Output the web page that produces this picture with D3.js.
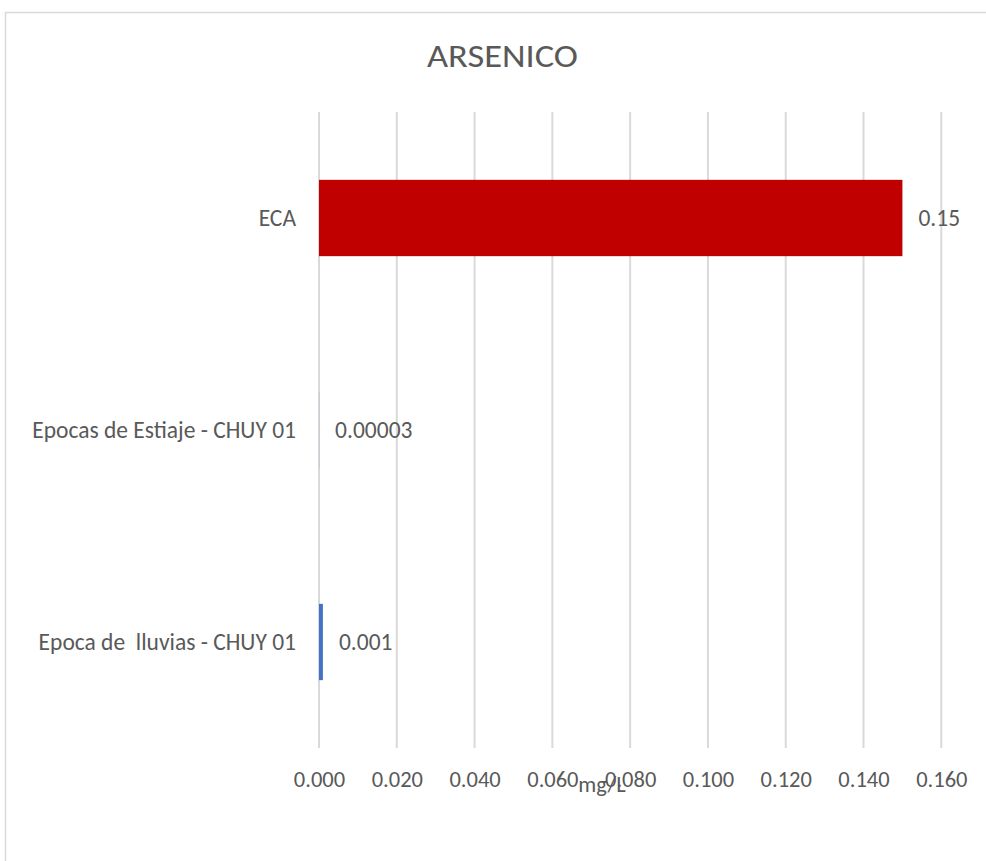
<!DOCTYPE html>
<html>
<head>
<meta charset="utf-8">
<script src="https://cdn.jsdelivr.net/npm/d3@7/dist/d3.min.js"></script>
<style>
  html, body { margin: 0; padding: 0; background: #ffffff; }
  svg { display: block; }
  text { font-family: Carlito, Lato, "Liberation Sans", sans-serif; fill: #595959; white-space: pre; }
</style>
</head>
<body>
<script>
// ---- data ----
const title = "ARSENICO";
const categories = ["ECA", "Epocas de Estiaje - CHUY 01", "Epoca de  lluvias - CHUY 01"];
const values = [0.15, 0.00003, 0.001];
const valueLabels = ["0.15", "0.00003", "0.001"];
const barColors = ["#c00000", "#4472c4", "#4472c4"];
const tickValues = [0, 0.02, 0.04, 0.06, 0.08, 0.10, 0.12, 0.14, 0.16];
const axisTitle = "mg/L";

// ---- layout ----
const W = 986, H = 861;
const plot = { left: 319, right: 941.3, top: 112, bottom: 748 };
const FS = "23.5px";
const FT = "22.5px";

const svg = d3.select("body").append("svg").attr("width", W).attr("height", H);

// chart border
svg.append("rect")
  .attr("x", 5.5).attr("y", 12.5)
  .attr("width", 1000).attr("height", 900)
  .attr("fill", "#fff").attr("stroke", "#d9d9d9").attr("stroke-width", 1.5);

const x = d3.scaleLinear().domain([0, 0.16]).range([plot.left, plot.right]);
const y = d3.scaleBand().domain(categories).range([plot.top, plot.bottom])
  .paddingInner(0.64).paddingOuter(0.32);

// gridlines
svg.append("g").selectAll("line").data(tickValues).join("line")
  .attr("x1", d => x(d)).attr("x2", d => x(d))
  .attr("y1", plot.top).attr("y2", plot.bottom)
  .attr("stroke", "#d9d9d9").attr("stroke-width", 2);

// x axis tick labels
const xAxis = d3.axisBottom(x).tickValues(tickValues).tickFormat(d3.format(".3f")).tickSize(0).tickPadding(0);
const gx = svg.append("g").attr("transform", `translate(0,${plot.bottom})`).call(xAxis);
gx.select(".domain").remove();
gx.selectAll("text")
  .attr("y", 39).attr("dy", 0)
  .style("font-size", FT).attr("fill", "#595959")
  .style("font-family", "Carlito, Lato, 'Liberation Sans', sans-serif");

// y axis category labels
const yAxis = d3.axisLeft(y).tickSize(0).tickPadding(23);
const gy = svg.append("g").attr("transform", `translate(${plot.left},0)`).call(yAxis);
gy.select(".domain").remove();
gy.selectAll("text")
  .style("font-size", FS).attr("fill", "#595959")
  .style("white-space", "pre")
  .style("font-family", "Carlito, Lato, 'Liberation Sans', sans-serif");

// bars
svg.append("g").selectAll("rect").data(categories).join("rect")
  .attr("x", x(0))
  .attr("y", d => y(d))
  .attr("width", (d, i) => x(values[i]) - x(0))
  .attr("height", y.bandwidth())
  .attr("fill", (d, i) => barColors[i]);

// value labels
svg.append("g").selectAll("text").data(categories).join("text")
  .attr("x", (d, i) => x(values[i]) + 16)
  .attr("y", d => y(d) + y.bandwidth() / 2)
  .attr("dy", "0.35em")
  .style("font-size", FS)
  .text((d, i) => valueLabels[i]);

// title
svg.append("text")
  .attr("x", 502.5).attr("y", 67)
  .attr("text-anchor", "middle")
  .style("font-size", "32px")
  .style("font-weight", 300)
  .attr("textLength", 151).attr("lengthAdjust", "spacingAndGlyphs")
  .text(title);

// axis title
svg.append("text")
  .attr("x", 602).attr("y", 792)
  .attr("text-anchor", "middle")
  .style("font-size", FT)
  .text(axisTitle);
</script>
</body>
</html>
